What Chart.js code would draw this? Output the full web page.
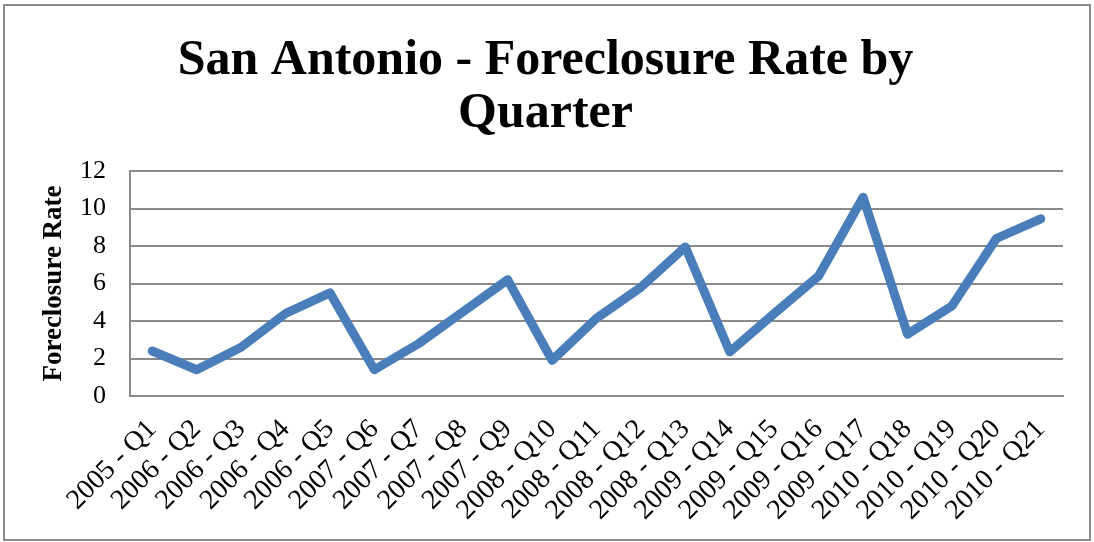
<!DOCTYPE html>
<html>
<head>
<meta charset="utf-8">
<script src="https://cdn.jsdelivr.net/npm/chart.js@4/dist/chart.umd.min.js"></script>
<style>
  html, body { margin: 0; padding: 0; background: #fff; }
  #wrap { width: 1094px; height: 542px; }
</style>
</head>
<body>
<div id="wrap"><canvas id="chart" width="1094" height="542"></canvas></div>
<script>
// quarter labels
const quarters = [
  '2005 - Q1', '2006 - Q2', '2006 - Q3', '2006 - Q4', '2006 - Q5',
  '2007 - Q6', '2007 - Q7', '2007 - Q8', '2007 - Q9',
  '2008 - Q10', '2008 - Q11', '2008 - Q12', '2008 - Q13',
  '2009 - Q14', '2009 - Q15', '2009 - Q16', '2009 - Q17',
  '2010 - Q18', '2010 - Q19', '2010 - Q20', '2010 - Q21'
];
// foreclosure rate per quarter
const rates = [
  2.4, 1.4, 2.6, 4.4, 5.5,
  1.4, 2.8, 4.5, 6.2,
  1.9, 4.15, 5.8, 7.95,
  2.35, 4.4, 6.4, 10.6,
  3.3, 4.8, 8.4, 9.45
];
const titleLines = ['San Antonio - Foreclosure Rate by', 'Quarter'];
const yTitle = 'Foreclosure Rate';
const yMin = 0, yMax = 12, yStep = 2;

const serif = "'Liberation Serif', 'DejaVu Serif', serif";

// grey frame around the whole chart
const frame = {
  id: 'frame',
  beforeDraw(chart) {
    const ctx = chart.ctx;
    ctx.save();
    ctx.fillStyle = '#fff';
    ctx.fillRect(0, 0, chart.width, chart.height);
    ctx.strokeStyle = '#8a8a8a';
    ctx.lineWidth = 2;
    ctx.strokeRect(4, 5, 1086, 535);
    ctx.restore();
  }
};

new Chart(document.getElementById('chart').getContext('2d'), {
  type: 'line',
  data: {
    labels: quarters,
    datasets: [{
      label: 'Foreclosure Rate',
      data: rates,
      borderColor: '#4a7ebb',
      backgroundColor: '#4a7ebb',
      borderWidth: 9,
      pointRadius: 0,
      tension: 0,
      borderJoinStyle: 'round',
      borderCapStyle: 'round'
    }]
  },
  options: {
    responsive: false,
    animation: false,
    layout: { padding: { left: 28, right: 31, top: 0, bottom: 4 } },
    plugins: {
      legend: { display: false },
      tooltip: { enabled: false },
      title: {
        display: true,
        text: titleLines,
        color: '#000',
        font: { family: serif, size: 50, weight: 'bold', lineHeight: 1.06 },
        padding: { top: 35, bottom: 30 }
      }
    },
    scales: {
      x: {
        offset: true,
        grid: { display: false, drawTicks: false },
        border: { display: true, color: '#8a8a8a', width: 2 },
        ticks: {
          color: '#000',
          font: { family: serif, size: 28 },
          minRotation: 45,
          maxRotation: 45,
          autoSkip: false,
          padding: 17
        },
        afterFit(scale) { scale.height = 142; }
      },
      y: {
        min: yMin,
        max: yMax,
        grid: { color: '#8a8a8a', lineWidth: 2, drawTicks: false },
        border: { display: true, color: '#8a8a8a', width: 2 },
        ticks: {
          stepSize: yStep,
          color: '#000',
          font: { family: serif, size: 26 },
          padding: 24
        },
        title: {
          display: true,
          text: yTitle,
          color: '#000',
          font: { family: serif, size: 27, weight: 'bold' },
          padding: { top: 10, bottom: 0 }
        },
        afterFit(scale) { scale.width = 102; }
      }
    }
  },
  plugins: [frame]
});
</script>
</body>
</html>
